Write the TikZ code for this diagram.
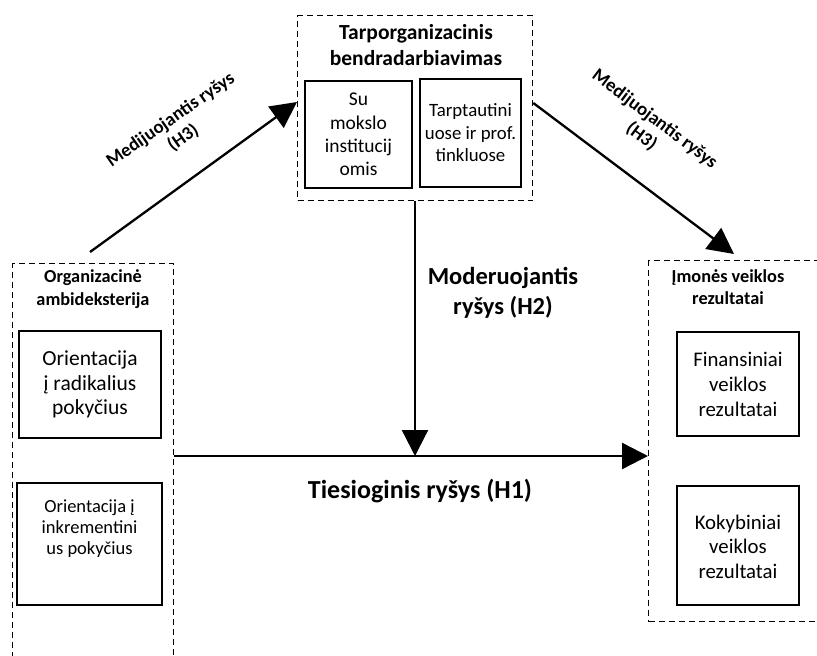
\documentclass[tikz,border=0pt]{standalone}
\usepackage{fontspec}
\setmainfont{Carlito}
\usetikzlibrary{arrows.meta}
\begin{document}
\begin{tikzpicture}[x=1pt,y=-1pt,
  dbox/.style={draw, line width=1.3pt, dash pattern=on 6pt off 4pt, inner sep=0pt, anchor=north west},
  sbox/.style={draw, line width=1.3pt, align=center, inner sep=0pt},
  arr/.style={line width=2.3pt, -{Triangle[length=26pt,width=26pt]}},
  ttl/.style={font=\bfseries\fontsize{18.3}{22.5}\selectfont, align=center},
  lbl/.style={font=\bfseries\fontsize{24.5}{29.5}\selectfont, align=center},
  dlbl/.style={font=\bfseries\fontsize{18.8}{22}\selectfont, align=center}
]
\useasboundingbox (0,0) rectangle (817,656);
% dashed group boxes
\node[dbox, minimum width=235pt, minimum height=185pt] (tarp) at (297,15) {};
\node[dbox, minimum width=161pt, minimum height=460pt] (amb) at (12,263) {};
\node[dbox, minimum width=200pt, minimum height=361pt] (rez) at (648,260) {};
% titles
\node[font=\bfseries\fontsize{21.5}{26}\selectfont, align=center] (tarpT) at (416,45) {Tarporganizacinis\\bendradarbiavimas};
\node[ttl] (ambT) at (93,289) {Organizacinė\\ambideksterija};
\node[ttl] (rezT) at (728,287) {Įmonės veiklos\\rezultatai};
% inner boxes
\node[sbox, minimum width=107pt, minimum height=107pt, font=\fontsize{19.5}{23.3}\selectfont] (su) at (358.5,134.5) {Su\\mokslo\\institucij\\omis};
\node[sbox, minimum width=101pt, minimum height=108pt, font=\fontsize{18.8}{22.5}\selectfont] (tt) at (470.5,133) {Tarptautini\\uose ir prof.\\tinkluose};
\node[sbox, minimum width=142pt, minimum height=107pt, font=\fontsize{21.5}{24.5}\selectfont] (rad) at (90,384.5) {Orientacija\\į radikalius\\pokyčius};
\node[sbox, minimum width=145pt, minimum height=122pt, font=\fontsize{18.5}{21}\selectfont] (ink) at (89.5,544) {Orientacija į\\inkrementini\\us pokyčius\\[12pt]};
\node[sbox, minimum width=122pt, minimum height=104pt, font=\fontsize{20.8}{25}\selectfont] (fin) at (738,384) {Finansiniai\\veiklos\\rezultatai};
\node[sbox, minimum width=122pt, minimum height=119pt, font=\fontsize{20.8}{24.5}\selectfont] (kok) at (738,545.5) {\\[-8pt]Kokybiniai\\veiklos\\rezultatai};
% connectors
\coordinate (a0) at (90,252);
\coordinate (b1) at (734,254);
\coordinate (m) at (415,456);
\draw[arr] (amb.east |- 0,456) -- (rez.west |- 0,456);
\draw[arr] (tarp.south -| m) -- (m);
\draw[arr] (a0) -- (tarp.west |- 0,102);
\draw[arr] (tarp.east |- 0,103) -- (b1);
% labels
\node[dlbl, rotate=35] (l3) at (177,129) {Medijuojantis ryšys\\(H3)};
\node[dlbl, rotate=-37] (r3) at (648,128) {Medijuojantis ryšys\\(H3)};
\node[lbl] (h2) at (503,293) {Moderuojantis\\ryšys (H2)};
\node[font=\bfseries\fontsize{26}{30}\selectfont] (h1) at (420,491) {Tiesioginis ryšys (H1)};
\end{tikzpicture}
\end{document}
